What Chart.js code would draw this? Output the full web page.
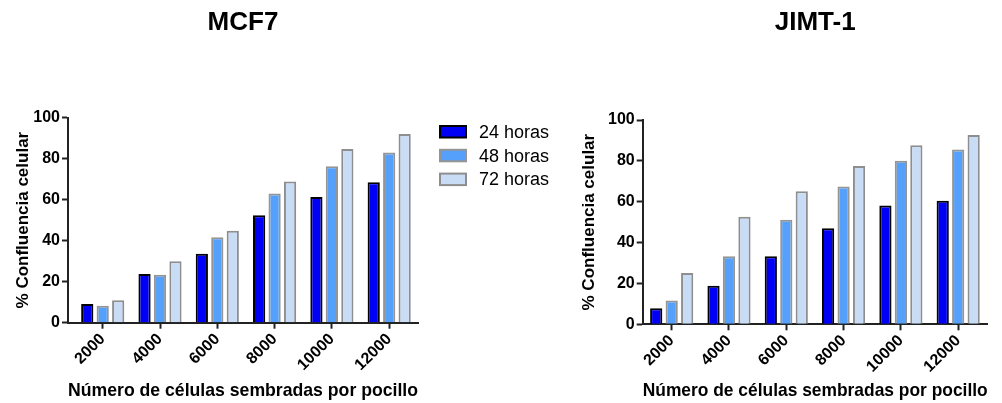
<!DOCTYPE html>
<html>
<head>
<meta charset="utf-8">
<script src="https://cdn.jsdelivr.net/npm/chart.js@4"></script>
<style>
  html, body { margin: 0; padding: 0; background: #fff; width: 1002px; height: 403px; overflow: hidden; }
  .panel { position: absolute; top: 0; }
</style>
</head>
<body>
<div class="panel" style="left:0"><canvas id="mcf7" width="560" height="403"></canvas></div>
<div class="panel" style="left:560px"><canvas id="jimt" width="442" height="403"></canvas></div>
<script>
// Seeding density per well (x categories)
const categories = ['2000', '4000', '6000', '8000', '10000', '12000'];
const seriesNames = ['24 horas', '48 horas', '72 horas'];

// % cell confluence, MCF7
const mcf7_24h = [9.1, 23.7, 33.6, 52.4, 61.2, 68.5];
const mcf7_48h = [8.3, 23.4, 41.6, 63.0, 76.3, 83.0];
const mcf7_72h = [10.9, 29.9, 44.8, 68.8, 84.6, 92.0];

// % cell confluence, JIMT-1
const jimt_24h = [7.8, 18.9, 33.3, 47.0, 58.1, 60.5];
const jimt_48h = [11.7, 33.3, 51.2, 67.4, 80.1, 85.5];
const jimt_72h = [25.1, 52.7, 65.1, 77.5, 87.6, 92.7];

const yTicks = [0, 20, 40, 60, 80, 100];

const FONT = '"Liberation Sans", Arial, Helvetica, sans-serif';
const AXIS = '#222';
const fills = ['#0000F5', '#55A0FA', '#C8DCF6'];
const borders = ['#000000', '#959595', '#8E8E8E'];

// Vertical legend drawn beside the first panel
const sideLegend = {
  id: 'sideLegend',
  afterDraw(chart, args, opts) {
    if (!opts.display) return;
    const ctx = chart.ctx;
    ctx.save();
    chart.data.datasets.forEach((ds, i) => {
      const y = opts.y + i * opts.step;
      ctx.fillStyle = ds.backgroundColor;
      ctx.fillRect(opts.x, y, opts.boxW, opts.boxH);
      ctx.lineWidth = 2;
      ctx.strokeStyle = ds.borderColor;
      ctx.strokeRect(opts.x, y, opts.boxW, opts.boxH);
      ctx.fillStyle = '#000';
      ctx.font = '18px ' + FONT;
      ctx.textBaseline = 'middle';
      ctx.textAlign = 'left';
      ctx.fillText(ds.label, opts.textX, y + opts.boxH / 2 + 1);
    });
    ctx.restore();
  }
};

function toPoints(values) {
  return values.map((v, i) => ({ x: i + 1, y: v }));
}

function buildChart(id, title, s24, s48, s72, geo) {
  const series = [s24, s48, s72];
  return new Chart(document.getElementById(id), {
    type: 'bar',
    data: {
      datasets: series.map((s, i) => ({
        label: seriesNames[i],
        data: toPoints(s),
        backgroundColor: fills[i],
        borderColor: borders[i],
        borderWidth: 2,
        barPercentage: 0.79,
        categoryPercentage: 0.81
      }))
    },
    plugins: [sideLegend],
    options: {
      responsive: false,
      animation: false,
      devicePixelRatio: 1,
      layout: { padding: { left: 0, right: geo.padRight, top: 0, bottom: 0 } },
      plugins: {
        legend: { display: false },
        tooltip: { enabled: false },
        title: {
          display: true,
          text: title,
          fullSize: false,
          color: '#000',
          font: { family: FONT, size: 26, weight: 'bold' },
          padding: { top: 7, bottom: geo.titleGap }
        },
        sideLegend: geo.legend
      },
      scales: {
        x: {
          type: 'linear',
          offset: false,
          bounds: 'data',
          min: geo.xMin,
          max: geo.xMax,
          afterBuildTicks: (scale) => { scale.ticks = categories.map((c, i) => ({ value: i + 1 })); },
          afterFit: (scale) => { scale.height = geo.xHeight; },
          ticks: {
            autoSkip: false,
            minRotation: 45,
            maxRotation: 45,
            padding: 1,
            color: '#000',
            font: { family: FONT, size: 16, weight: 'bold' },
            callback: (v) => categories[Math.round(v) - 1]
          },
          grid: { offset: false, drawOnChartArea: false, drawTicks: true, tickLength: 6, tickWidth: 2, tickColor: AXIS },
          border: { display: true, color: AXIS, width: 2 },
          title: {
            display: true,
            text: 'Número de células sembradas por pocillo',
            color: '#000',
            font: { family: FONT, size: 19, weight: 'bold' },
            padding: { top: 0, bottom: 1 }
          }
        },
        y: {
          min: 0,
          max: 100,
          afterBuildTicks: (scale) => { scale.ticks = yTicks.map(v => ({ value: v })); },
          afterFit: (scale) => { scale.width = geo.yWidth; },
          ticks: {
            padding: 2,
            color: '#000',
            font: { family: FONT, size: 16, weight: 'bold' }
          },
          grid: { drawOnChartArea: false, drawTicks: true, tickLength: 6, tickWidth: 2, tickColor: AXIS },
          border: { display: true, color: AXIS, width: 2 },
          title: {
            display: true,
            text: '% Confluencia celular',
            color: '#000',
            font: { family: FONT, size: 17, weight: 'bold' },
            padding: { top: geo.yTitlePad, bottom: 0 }
          }
        }
      }
    }
  });
}

buildChart('mcf7', 'MCF7', mcf7_24h, mcf7_48h, mcf7_72h, {
  padRight: 142, titleGap: 79.3, xHeight: 80.3, yWidth: 68, yTitlePad: 13,
  xMin: 0.394, xMax: 6.503,
  legend: { display: true, x: 440, y: 126, step: 23.8, boxW: 26, boxH: 11.5, textX: 479 }
});

buildChart('jimt', 'JIMT-1', jimt_24h, jimt_48h, jimt_72h, {
  padRight: 14.3, titleGap: 81.8, xHeight: 78.7, yWidth: 82.7, yTitlePad: 19,
  xMin: 0.494, xMax: 6.515,
  legend: { display: false }
});
</script>
</body>
</html>
